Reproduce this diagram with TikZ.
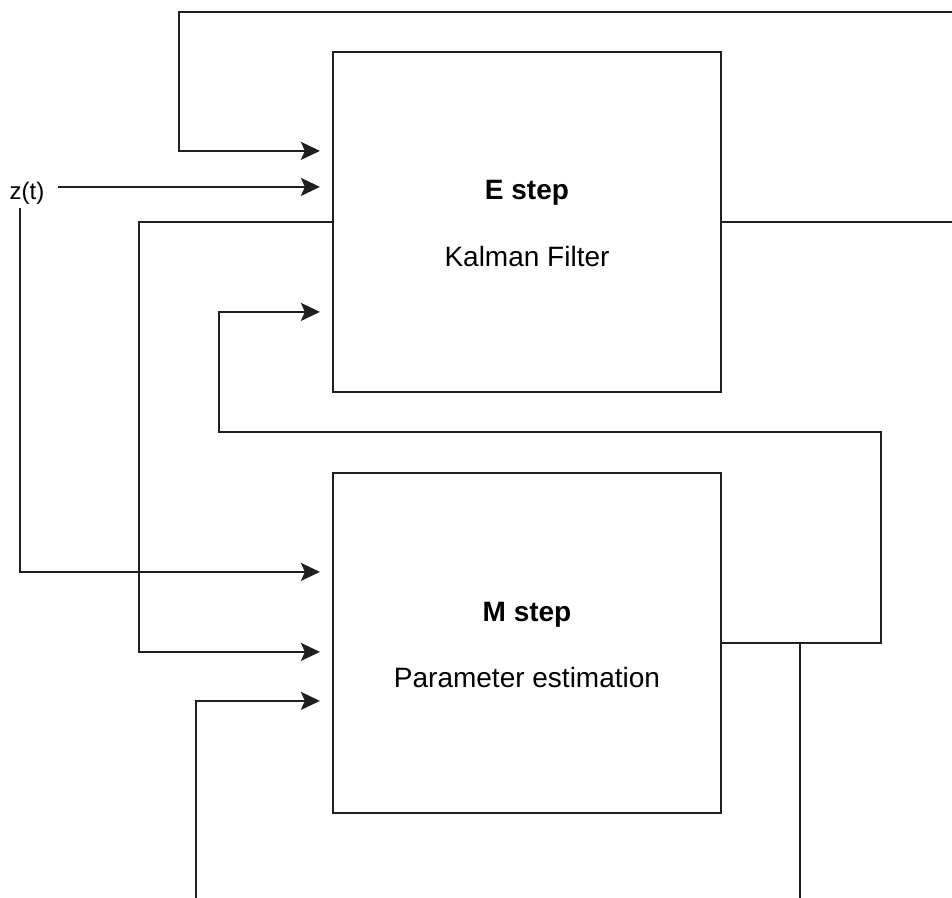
\documentclass[tikz,border=0pt]{standalone}
\usepackage{fontspec}
\setmainfont{Liberation Sans}
\usetikzlibrary{arrows.meta,calc}
\definecolor{ink}{HTML}{1F1F1F}
\begin{document}
\begin{tikzpicture}[x=1pt,y=-1pt,
  block/.style={draw=ink, line width=2.2pt, minimum width=388pt, minimum height=340pt, inner sep=0pt},
  wire/.style={draw=ink, line width=2.2pt},
  flow/.style={wire, -{Stealth[length=19pt,width=18pt,inset=4pt]}, shorten >=12pt},
  headtext/.style={font=\fontsize{28}{34}\selectfont\bfseries, inner sep=0pt},
  subtext/.style={font=\fontsize{28}{34}\selectfont, inner sep=0pt},
  sigtext/.style={font=\fontsize{24}{28}\selectfont, inner sep=0pt}]
\useasboundingbox (0,0) rectangle (952,897);
\clip (0,0) rectangle (952,897);

% blocks
\node[block] (E) at (527,222) {};
\node[block] (M) at (527,643) {};
\node[headtext] (Etitle) at (527,193) {E step};
\node[subtext]  (Esub)   at (527,256) {Kalman Filter};
\node[headtext] (Mtitle) at (527,615) {M step};
\node[subtext]  (Msub)   at (527,677) {Parameter estimation};

% input signal
\node[sigtext] (zt) at (27,193) {z(t)};

% ports on the left sides of the blocks
\coordinate (Ein1) at ($(E.north west)+(0,100)$);
\coordinate (Ein2) at ($(E.north west)+(0,136)$);
\coordinate (Ein3) at ($(E.north west)+(0,261)$);
\coordinate (Min1) at ($(M.north west)+(0,100)$);
\coordinate (Min2) at ($(M.north west)+(0,180)$);
\coordinate (Min3) at ($(M.north west)+(0,229)$);

% bend points of the feedback loops
\coordinate (topR)  at (975,12);
\coordinate (loopR) at (881,432);
\coordinate (botR)  at (800,925);
\coordinate (zdrop) at (20,208);

% E step output fed back into E step over the top
\draw[flow] (E.east) -| (topR) -| ([xshift=-153pt]Ein1) -- (Ein1);
% measurement into E step
\draw[flow, shorten <=13pt] (Ein2 -| zt.east) -- (Ein2);
% measurement into M step
\draw[flow] (zdrop) |- (Min1);
% E step output into M step
\draw[flow] (E.west) -| ([xshift=-193pt]Min2) -- (Min2);
% M step parameters back into E step
\draw[flow] (M.east) -| (loopR) -| ([xshift=-113pt]Ein3) -- (Ein3);
% M step parameters fed back into M step underneath
\draw[flow] (M.east) -| (botR) -| ([xshift=-136pt]Min3) -- (Min3);
\end{tikzpicture}
\end{document}
